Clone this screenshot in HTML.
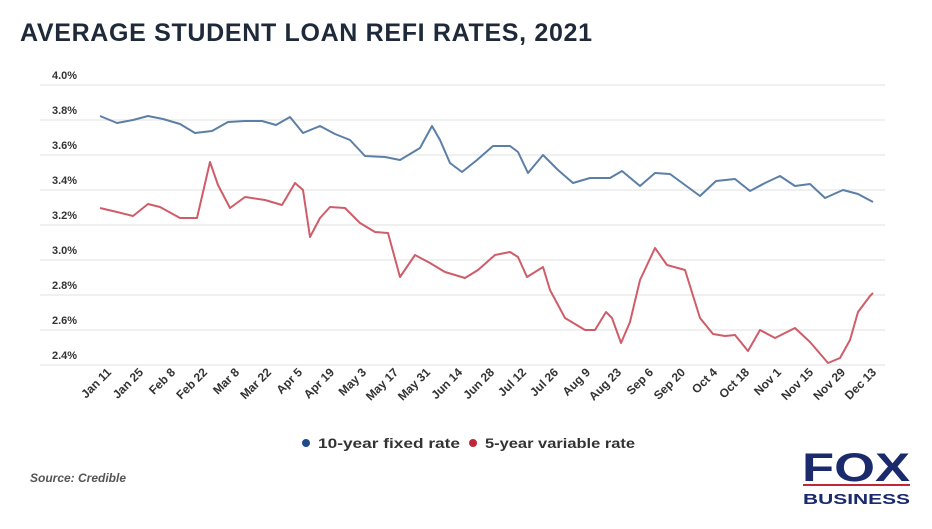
<!DOCTYPE html>
<html><head><style>
body{margin:0;width:932px;height:524px;background:#fff;overflow:hidden;font-family:"Liberation Sans",sans-serif}
</style></head><body>
<svg width="932" height="524" xmlns="http://www.w3.org/2000/svg" font-family="Liberation Sans, sans-serif">
<text x="20" y="41" font-size="25" font-weight="bold" fill="#1e2a3a" textLength="572">AVERAGE STUDENT LOAN REFI RATES, 2021</text>
<g stroke="#ececec" stroke-width="1.5">
<line x1="40" x2="885" y1="85" y2="85"/><line x1="40" x2="885" y1="120" y2="120"/><line x1="40" x2="885" y1="155" y2="155"/><line x1="40" x2="885" y1="190" y2="190"/><line x1="40" x2="885" y1="225" y2="225"/><line x1="40" x2="885" y1="260" y2="260"/><line x1="40" x2="885" y1="295" y2="295"/><line x1="40" x2="885" y1="330" y2="330"/><line x1="40" x2="885" y1="365" y2="365"/>
</g>
<g font-size="11" font-weight="bold" fill="#333">
<text x="52" y="79">4.0%</text><text x="52" y="114">3.8%</text><text x="52" y="149">3.6%</text><text x="52" y="184">3.4%</text><text x="52" y="219">3.2%</text><text x="52" y="254">3.0%</text><text x="52" y="289">2.8%</text><text x="52" y="324">2.6%</text><text x="52" y="359">2.4%</text>
</g>
<polyline fill="none" stroke="#5b7fa6" stroke-width="2" stroke-linejoin="round" points="100,116 117,123 133,120 148,116 163,119 180,124 195,133 212,131 228,122 245,121 262,121 276,125 290,117 303,133 320,126 335,134 350,140 365,156 385,157 400,160 420,148 432,126 440,140 450,163 462,172 477,160 493,146 510,146 518,152 528,173 543,155 558,170 573,183 590,178 610,178 622,171 640,186 655,173 670,174 685,185 700,196 716,181 735,179 750,191 765,183 780,176 795,186 810,184 825,198 843,190 858,194 873,202"/>
<polyline fill="none" stroke="#cf5d69" stroke-width="2" stroke-linejoin="round" points="100,208 117,212 133,216 148,204 160,207 180,218 197,218 210,162 218,185 230,208 245,197 265,200 282,205 295,183 303,190 310,237 320,218 330,207 345,208 360,223 375,232 388,233 400,277 415,255 430,263 445,272 465,278 478,270 495,255 510,252 518,257 527,277 543,267 550,290 565,318 585,330 595,330 606,312 612,318 621,343 630,322 640,280 655,248 667,265 685,270 700,318 713,334 725,336 735,335 748,351 760,330 775,338 795,328 810,342 828,363 840,358 850,340 858,312 870,296 873,293"/>
<g font-size="12" font-weight="bold" fill="#333">
<text transform="translate(112,373) rotate(-45)" text-anchor="end">Jan 11</text>
<text transform="translate(144,373) rotate(-45)" text-anchor="end">Jan 25</text>
<text transform="translate(176,373) rotate(-45)" text-anchor="end">Feb 8</text>
<text transform="translate(208,373) rotate(-45)" text-anchor="end">Feb 22</text>
<text transform="translate(240,373) rotate(-45)" text-anchor="end">Mar 8</text>
<text transform="translate(272,373) rotate(-45)" text-anchor="end">Mar 22</text>
<text transform="translate(303,373) rotate(-45)" text-anchor="end">Apr 5</text>
<text transform="translate(335,373) rotate(-45)" text-anchor="end">Apr 19</text>
<text transform="translate(367,373) rotate(-45)" text-anchor="end">May 3</text>
<text transform="translate(399,373) rotate(-45)" text-anchor="end">May 17</text>
<text transform="translate(431,373) rotate(-45)" text-anchor="end">May 31</text>
<text transform="translate(463,373) rotate(-45)" text-anchor="end">Jun 14</text>
<text transform="translate(495,373) rotate(-45)" text-anchor="end">Jun 28</text>
<text transform="translate(527,373) rotate(-45)" text-anchor="end">Jul 12</text>
<text transform="translate(559,373) rotate(-45)" text-anchor="end">Jul 26</text>
<text transform="translate(591,373) rotate(-45)" text-anchor="end">Aug 9</text>
<text transform="translate(622,373) rotate(-45)" text-anchor="end">Aug 23</text>
<text transform="translate(654,373) rotate(-45)" text-anchor="end">Sep 6</text>
<text transform="translate(686,373) rotate(-45)" text-anchor="end">Sep 20</text>
<text transform="translate(718,373) rotate(-45)" text-anchor="end">Oct 4</text>
<text transform="translate(750,373) rotate(-45)" text-anchor="end">Oct 18</text>
<text transform="translate(782,373) rotate(-45)" text-anchor="end">Nov 1</text>
<text transform="translate(814,373) rotate(-45)" text-anchor="end">Nov 15</text>
<text transform="translate(846,373) rotate(-45)" text-anchor="end">Nov 29</text>
<text transform="translate(877,373) rotate(-45)" text-anchor="end">Dec 13</text>
</g>
<circle cx="306" cy="443" r="4" fill="#1f4b8c"/>
<text x="318" y="448" font-size="14" font-weight="bold" fill="#333" textLength="142" lengthAdjust="spacingAndGlyphs">10-year fixed rate</text>
<circle cx="473" cy="443" r="4" fill="#c0283a"/>
<text x="485" y="448" font-size="14" font-weight="bold" fill="#333" textLength="150" lengthAdjust="spacingAndGlyphs">5-year variable rate</text>
<text x="30" y="482" font-size="12" font-style="italic" font-weight="bold" fill="#555">Source: Credible</text>
<text x="802" y="481" font-size="40" font-weight="bold" fill="#1a2a6c" textLength="108" lengthAdjust="spacingAndGlyphs">FOX</text>
<rect x="803" y="484" width="107" height="2" fill="#c0283a"/>
<text x="803" y="504" font-size="15" font-weight="bold" fill="#1a2a6c" textLength="107" lengthAdjust="spacingAndGlyphs">BUSINESS</text>
</svg>
</body></html>
